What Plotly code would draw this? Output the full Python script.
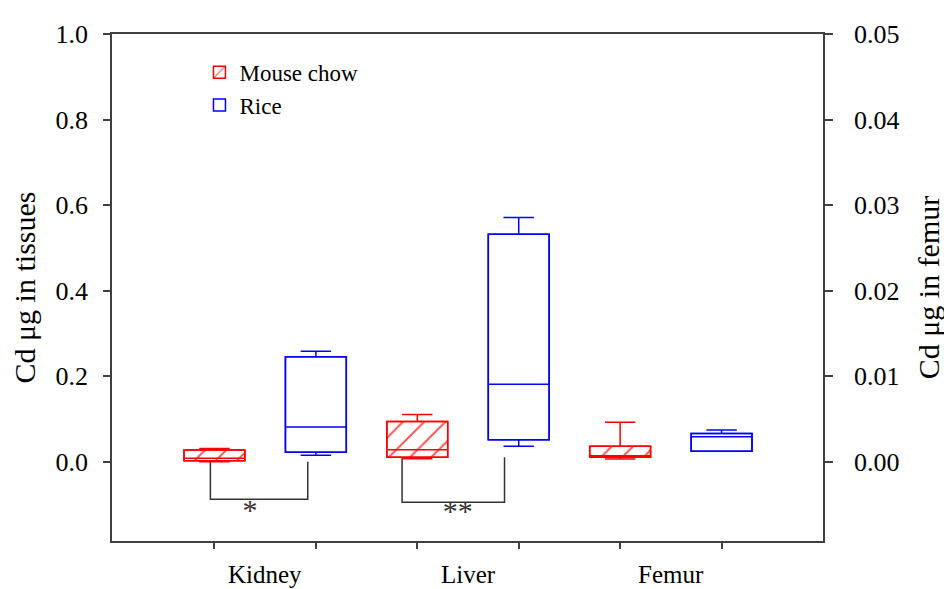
import plotly.graph_objects as go

# ---------------- data ----------------
organs = ["Kidney", "Liver", "Femur"]
groups = ["Mouse chow", "Rice"]

# box positions along x (category slots)
chow_pos = [0, 2]
rice_pos = [1, 3]
femur_chow_pos = [4]
femur_rice_pos = [5]
organ_label_pos = [0.5, 2.5, 4.5]

# Kidney, Liver (left axis, Cd ug in tissues)
chow_lower = [0.000, 0.007]
chow_q1 = [0.002, 0.010]
chow_median = [0.008, 0.028]
chow_q3 = [0.027, 0.094]
chow_upper = [0.031, 0.110]

rice_lower = [0.015, 0.036]
rice_q1 = [0.022, 0.051]
rice_median = [0.081, 0.181]
rice_q3 = [0.245, 0.532]
rice_upper = [0.258, 0.571]

# Femur (right axis, Cd ug in femur)
femur_chow_lower = [0.0003]
femur_chow_q1 = [0.0005]
femur_chow_median = [0.0007]
femur_chow_q3 = [0.0018]
femur_chow_upper = [0.0046]

femur_rice_lower = [0.0012]
femur_rice_q1 = [0.0012]
femur_rice_median = [0.0029]
femur_rice_q3 = [0.0033]
femur_rice_upper = [0.0037]

# significance brackets
kidney_bracket_x = [-0.04, -0.04, 0.92, 0.92]
kidney_bracket_y = [0.0, -0.088, -0.088, 0.0]
liver_bracket_x = [1.85, 1.85, 2.86, 2.86]
liver_bracket_y = [0.008, -0.095, -0.095, 0.010]
sig_labels = ["*", "**"]
sig_x = [0.35, 2.40]
sig_y = [-0.118, -0.122]

left_ticks = [0.0, 0.2, 0.4, 0.6, 0.8, 1.0]
right_ticks = [0.00, 0.01, 0.02, 0.03, 0.04, 0.05]
left_range = [-0.1856, 1.0]
right_range = [-0.1856 * 0.05, 0.05]

# ---------------- styling ----------------
RED = "#ff0000"
BLUE = "#0000ff"
AX = "#404040"
FONT = "Liberation Serif"
BW = 0.6

fig = go.Figure()


def diff(a, b):
    return [x - y for x, y in zip(a, b)]


hatch = dict(shape="/", fgcolor=RED, bgcolor="white", size=15, solidity=0.12, fgopacity=0.75)

# box bodies as bars (hatched for mouse chow)
fig.add_trace(go.Bar(x=chow_pos, base=chow_q1, y=diff(chow_q3, chow_q1), width=BW,
                     marker=dict(color="white", pattern=hatch, line=dict(color=RED, width=1.5)),
                     name=groups[0], legendgroup="chow", hoverinfo="skip"))
fig.add_trace(go.Bar(x=rice_pos, base=rice_q1, y=diff(rice_q3, rice_q1), width=BW,
                     marker=dict(color="white", line=dict(color=BLUE, width=1.5)),
                     name=groups[1], legendgroup="rice", hoverinfo="skip"))
fig.add_trace(go.Bar(x=femur_chow_pos, base=femur_chow_q1, y=diff(femur_chow_q3, femur_chow_q1), width=BW,
                     marker=dict(color="white", pattern=hatch, line=dict(color=RED, width=1.5)),
                     yaxis="y2", showlegend=False, legendgroup="chow", hoverinfo="skip"))
fig.add_trace(go.Bar(x=femur_rice_pos, base=femur_rice_q1, y=diff(femur_rice_q3, femur_rice_q1), width=BW,
                     marker=dict(color="white", line=dict(color=BLUE, width=1.5)),
                     yaxis="y2", showlegend=False, legendgroup="rice", hoverinfo="skip"))


def add_box(pos, lo, q1, med, q3, hi, color, yaxis="y"):
    fig.add_trace(go.Box(x=pos, lowerfence=lo, q1=q1, median=med, q3=q3, upperfence=hi,
                         width=BW, whiskerwidth=0.5, boxpoints=False,
                         fillcolor="rgba(0,0,0,0)", line=dict(color=color, width=1.5),
                         yaxis=yaxis, showlegend=False, hoverinfo="skip"))


add_box(chow_pos, chow_lower, chow_q1, chow_median, chow_q3, chow_upper, RED)
add_box(rice_pos, rice_lower, rice_q1, rice_median, rice_q3, rice_upper, BLUE)
add_box(femur_chow_pos, femur_chow_lower, femur_chow_q1, femur_chow_median, femur_chow_q3,
        femur_chow_upper, RED, "y2")
add_box(femur_rice_pos, femur_rice_lower, femur_rice_q1, femur_rice_median, femur_rice_q3,
        femur_rice_upper, BLUE, "y2")

# significance brackets
for bx, by in [(kidney_bracket_x, kidney_bracket_y), (liver_bracket_x, liver_bracket_y)]:
    fig.add_trace(go.Scatter(x=bx, y=by, mode="lines", line=dict(color="#333333", width=1.5),
                             showlegend=False, hoverinfo="skip"))
fig.add_trace(go.Scatter(x=sig_x, y=sig_y, mode="text", text=sig_labels,
                         textfont=dict(family=FONT, size=30, color="#333333"),
                         showlegend=False, hoverinfo="skip"))

# organ labels
for name, xp in zip(organs, organ_label_pos):
    fig.add_annotation(x=xp, y=-0.066, xref="x", yref="paper", text=name, showarrow=False,
                       font=dict(family=FONT, size=25, color="black"), yanchor="middle",
                       borderpad=0)

# page body has an 8px margin: figure is sized/offset to compensate
fig.update_layout(
    width=944, height=581,
    margin=dict(l=104, r=127, t=22, b=48),
    paper_bgcolor="white", plot_bgcolor="white",
    barmode="overlay", boxmode="overlay",
    font=dict(family=FONT, color="black"),
    showlegend=True,
    legend=dict(x=0.123, y=0.967, xanchor="left", yanchor="top", bgcolor="rgba(0,0,0,0)",
                font=dict(family=FONT, size=23), tracegroupgap=0, itemwidth=30),
    xaxis=dict(range=[-1.01, 6.0], tickvals=[0, 1, 2, 3, 4, 5], ticktext=[""] * 6,
               ticks="outside", ticklen=6, tickcolor=AX, tickwidth=1.5,
               showline=True, linecolor=AX, linewidth=1.5, mirror=True,
               showgrid=False, zeroline=False),
    yaxis=dict(range=left_range, tickvals=left_ticks, tickformat=".1f",
               ticks="outside", ticklen=7, tickcolor=AX, tickwidth=1.5,
               showline=True, linecolor=AX, linewidth=1.5,
               showgrid=False, zeroline=False, ticklabelstandoff=10,
               tickfont=dict(family=FONT, size=26),
               title=dict(text="Cd μg in tissues", font=dict(family=FONT, size=30), standoff=12)),
    yaxis2=dict(range=right_range, tickvals=right_ticks, tickformat=".2f",
                overlaying="y", side="right",
                ticks="outside", ticklen=8, tickcolor=AX, tickwidth=1.5,
                showline=True, linecolor=AX, linewidth=1.5,
                showgrid=False, zeroline=False, ticklabelstandoff=16,
                tickfont=dict(family=FONT, size=26),
                title=dict(text="Cd μg in femur", font=dict(family=FONT, size=30), standoff=20)),
)

fig.write_html("out.html")
